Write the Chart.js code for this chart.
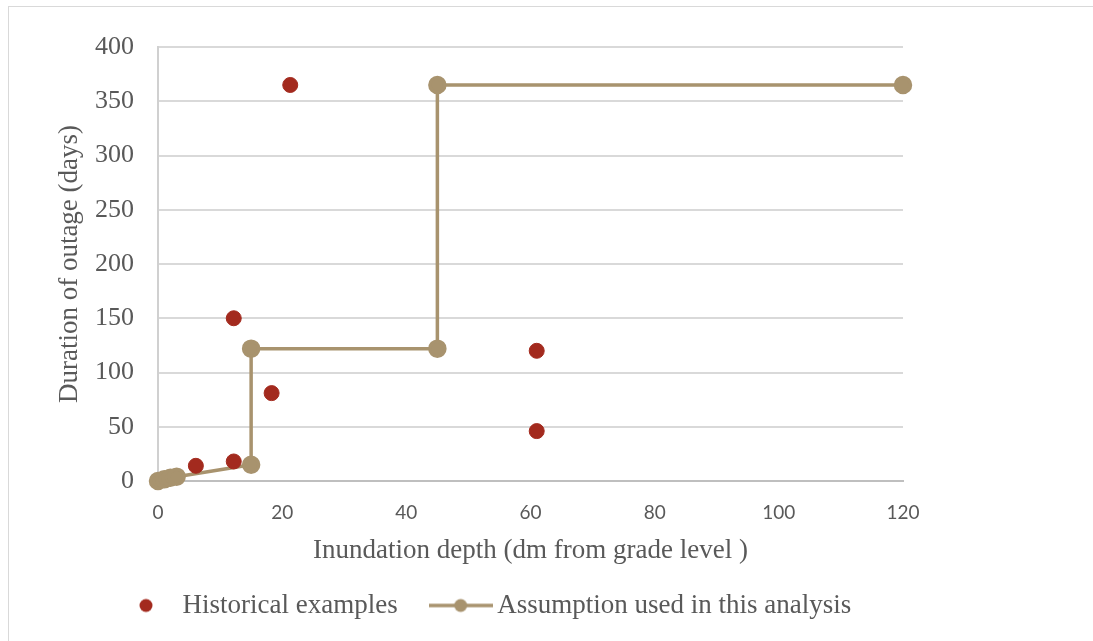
<!DOCTYPE html>
<html>
<head>
<meta charset="utf-8">
<script src="https://cdn.jsdelivr.net/npm/chart.js@4"></script>
<style>
  body { margin: 0; background: #fff; }
  #frame { position: absolute; left: 8px; top: 6px; width: 1090px; height: 640px; border: 1px solid #d9d9d9; pointer-events: none; }
</style>
</head>
<body>
<canvas id="outageChart" width="1093" height="641"></canvas>
<div id="frame"></div>
<script>
  // Historical examples (depth in dm, outage in days)
  const historicalDepth = [6.1, 12.2, 12.2, 18.3, 21.3, 61, 61];
  const historicalDays = [14, 18, 150, 81, 365, 120, 46];

  // Stepped assumption curve
  const assumptionDepth = [0, 1, 2, 3, 15, 15, 45, 45, 120];
  const assumptionDays = [0, 1.5, 3, 4, 15, 122, 122, 365, 365];

  const xTicks = [0, 20, 40, 60, 80, 100, 120];
  const yTicks = [0, 50, 100, 150, 200, 250, 300, 350, 400];

  const red = "#A32A1E";
  const tan = "#A8936E";
  const textGray = "#595959";
  const serif = "'Liberation Serif', 'DejaVu Serif', serif";

  const toPoints = (xs, ys) => xs.map((x, i) => ({ x: x, y: ys[i] }));

  // legend markers drawn on small canvases
  const makeMarker = (w, withLine, color) => {
    const c = document.createElement("canvas");
    c.width = w;
    c.height = 16;
    const g = c.getContext("2d");
    if (withLine) {
      g.strokeStyle = color;
      g.lineWidth = 3.5;
      g.beginPath();
      g.moveTo(0, 8);
      g.lineTo(w, 8);
      g.stroke();
    }
    g.fillStyle = color;
    g.beginPath();
    g.arc(w / 2, 8, 6.5, 0, Math.PI * 2);
    g.fill();
    return c;
  };
  const dotMarker = makeMarker(20, false, red);
  const lineMarker = makeMarker(64, true, tan);

  // move the legend row to where the original had it
  const legendPlacement = {
    id: "legendPlacement",
    afterLayout(chart) {
      const lg = chart.legend;
      const total = lg.legendHitBoxes.reduce((s, b) => s + b.width, 0);
      lg.left = 2 * 123 - lg.right + total + lg.options.labels.padding;
      lg.top = 552;
    },
  };

  new Chart(document.getElementById("outageChart").getContext("2d"), {
    type: "scatter",
    data: {
      datasets: [
        {
          label: "Historical examples",
          data: toPoints(historicalDepth, historicalDays),
          backgroundColor: red,
          borderColor: red,
          pointRadius: 7.5,
          pointHoverRadius: 7.5,
          showLine: false,
          clip: false,
        },
        {
          label: "Assumption used in this analysis",
          data: toPoints(assumptionDepth, assumptionDays),
          backgroundColor: tan,
          borderColor: tan,
          borderWidth: 3.5,
          pointRadius: 7.5,
          pointHoverRadius: 7.5,
          showLine: true,
          clip: false,
        },
      ],
    },
    plugins: [legendPlacement],
    options: {
      responsive: false,
      animation: false,
      layout: { padding: { left: 8, top: 47, right: 190, bottom: 10 } },
      plugins: {
        tooltip: { enabled: false },
        legend: {
          position: "bottom",
          maxHeight: 60,
          labels: {
            usePointStyle: true,
            pointStyleWidth: 46,
            padding: 40,
            color: textGray,
            font: { family: serif, size: 27 },
            generateLabels: (chart) =>
              chart.data.datasets.map((ds, i) => ({
                text: ds.label,
                pointStyle: i === 0 ? dotMarker : lineMarker,
                fontColor: textGray,
                lineWidth: 0,
                datasetIndex: i,
              })),
          },
        },
      },
      scales: {
        x: {
          type: "linear",
          min: 0,
          max: 120,
          afterBuildTicks: (axis) => {
            axis.ticks = xTicks.map((v) => ({ value: v }));
          },
          afterFit: (axis) => {
            axis.height = 90;
          },
          grid: { display: false, drawTicks: false },
          border: { display: true, color: "#bfbfbf", width: 2 },
          ticks: {
            padding: 20,
            color: textGray,
            font: { family: "Lato, 'Open Sans', sans-serif", size: 19 },
          },
          title: {
            display: true,
            text: "Inundation depth (dm from grade level )",
            color: textGray,
            font: { family: serif, size: 27 },
            padding: { top: 0, bottom: 4 },
          },
        },
        y: {
          type: "linear",
          min: 0,
          max: 400,
          afterBuildTicks: (axis) => {
            axis.ticks = yTicks.map((v) => ({ value: v }));
          },
          afterFit: (axis) => {
            axis.width = 150;
          },
          grid: { color: "#d9d9d9", lineWidth: 2, drawTicks: false },
          border: { display: true, color: "#d0d0d0", width: 2 },
          ticks: {
            padding: 24,
            color: textGray,
            font: { family: serif, size: 26 },
          },
          title: {
            display: true,
            text: "Duration of outage (days)",
            color: textGray,
            font: { family: serif, size: 27 },
            padding: { top: 46, bottom: 0 },
          },
        },
      },
    },
  });
</script>
</body>
</html>
